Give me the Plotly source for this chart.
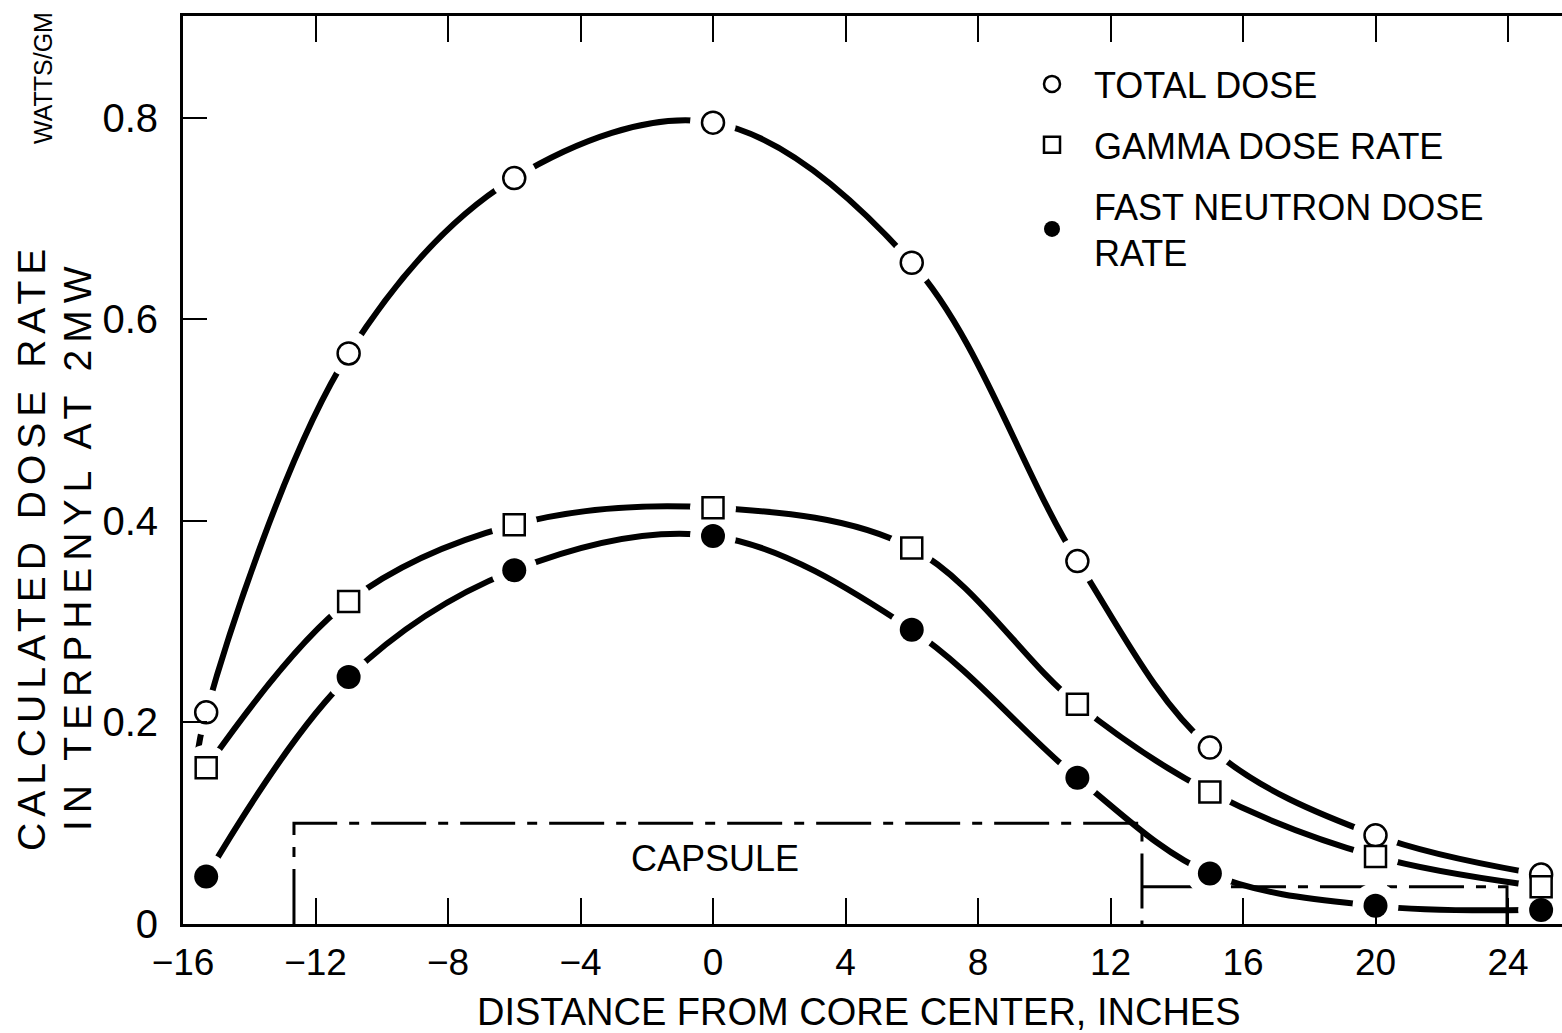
import plotly.graph_objects as go

# ---------------- data ----------------
distance_in = [-15.3, -11, -6, 0, 6, 11, 15, 20, 25]
total_dose = [0.21, 0.566, 0.74, 0.795, 0.656, 0.36, 0.175, 0.088, 0.049]
gamma_dose = [0.155, 0.32, 0.396, 0.413, 0.373, 0.218, 0.131, 0.067, 0.037]
neutron_dose = [0.047, 0.245, 0.351, 0.385, 0.292, 0.145, 0.05, 0.018, 0.014]

# lower end of the hand-drawn total-dose curve (extends below the first point)
total_curve_start_x = [-15.67]
total_curve_start_y = [0.138]

# capsule outline
capsule_x = [-12.65, -12.65, 12.95, 12.95]
capsule_y = [0.0, 0.100, 0.100, 0.0]
shelf_x = [12.95, 23.97, 23.97]
shelf_y = [0.037, 0.037, 0.0]

x_tick_vals = [-16, -12, -8, -4, 0, 4, 8, 12, 16, 20, 24]
x_tick_text = ["\u221216", "\u221212", "\u22128", "\u22124", "0", "4", "8", "12", "16", "20", "24"]
y_tick_vals = [0, 0.2, 0.4, 0.6, 0.8]
y_tick_text = ["0", "0.2", "0.4", "0.6", "0.8"]

series_names = ["TOTAL DOSE", "GAMMA DOSE RATE", "FAST NEUTRON DOSE<br>RATE"]

# ---------------- figure ----------------
FONT = "Liberation Sans, Arial, sans-serif"
W, H = 1562, 1033
L, R, T, B = 183, 0, 16, 109
pw, ph = W - L - R, H - T - B
X_RANGE = [-16, 25.63]
Y_RANGE = [0, 0.9008]
HALO = 46


def px_x(p):
    return (p - L) / pw


def px_y(p):
    return (H - B - p) / ph


fig = go.Figure()

DASH = "55px,12px,10px,12px"
fig.add_trace(go.Scatter(x=capsule_x, y=capsule_y, mode="lines",
                         line=dict(color="black", width=3, dash=DASH),
                         showlegend=False, hoverinfo="skip"))
fig.add_trace(go.Scatter(x=shelf_x, y=shelf_y, mode="lines",
                         line=dict(color="black", width=3, dash=DASH),
                         showlegend=False, hoverinfo="skip"))

# curves; each carries opaque white halo markers that break the curve around the points
curve_sets = [
    (total_curve_start_x + distance_in, total_curve_start_y + total_dose,
     [0] + [HALO] * len(distance_in)),
    (distance_in, gamma_dose, [HALO] * len(distance_in)),
    (distance_in, neutron_dose, [HALO] * len(distance_in)),
]
for cx, cy, hs in curve_sets:
    fig.add_trace(go.Scatter(x=cx, y=cy, mode="lines+markers",
                             line=dict(color="black", width=6, shape="spline", smoothing=1.0),
                             marker=dict(color="white", size=hs, opacity=1,
                                         line=dict(width=0, color="white")),
                             showlegend=False, hoverinfo="skip"))

marker_specs = [
    (total_dose, dict(symbol="circle-open", size=22, color="black", opacity=1, line=dict(width=2.5))),
    (gamma_dose, dict(symbol="square", size=21, color="white", opacity=1,
                      line=dict(width=2.5, color="black"))),
    (neutron_dose, dict(symbol="circle", size=24, color="black", opacity=1)),
]
for i, (ys, mk) in enumerate(marker_specs):
    fig.add_trace(go.Scatter(x=distance_in, y=ys, mode="markers", marker=mk,
                             name=series_names[i], legendgroup=f"g{i}",
                             showlegend=True))

fig.update_layout(
    width=W, height=H,
    margin=dict(l=L, r=R, t=T, b=B),
    paper_bgcolor="white", plot_bgcolor="white",
    font=dict(family=FONT, color="black", size=36),
    showlegend=True,
    legend=dict(x=px_x(1010), y=px_y(54), xanchor="left", yanchor="top",
                bgcolor="rgba(0,0,0,0)", borderwidth=0, itemwidth=74,
                font=dict(family=FONT, size=36, color="black"),
                traceorder="grouped", tracegroupgap=11, itemsizing="trace"),
    xaxis=dict(range=X_RANGE, tickmode="array", tickvals=x_tick_vals, ticktext=x_tick_text,
               ticks="inside", ticklen=26, tickwidth=2, tickcolor="black",
               showline=True, linecolor="black", linewidth=3, mirror="allticks",
               showgrid=False, zeroline=False,
               tickfont=dict(family=FONT, size=37), ticklabelstandoff=4),
    yaxis=dict(range=Y_RANGE, tickmode="array", tickvals=y_tick_vals, ticktext=y_tick_text,
               ticks="inside", ticklen=24, tickwidth=2, tickcolor="black",
               showline=True, linecolor="black", linewidth=3,
               showgrid=False, zeroline=False,
               tickfont=dict(family=FONT, size=40), ticklabelstandoff=14),
    yaxis2=dict(range=Y_RANGE, overlaying="y", side="right", anchor="x",
                tickmode="array", tickvals=y_tick_vals, showticklabels=False,
                ticks="inside", ticklen=18, tickwidth=2, tickcolor="black",
                showline=False, showgrid=False, zeroline=False),
)

# x-axis title
fig.add_annotation(text="DISTANCE FROM CORE CENTER, INCHES",
                   xref="paper", yref="paper", x=px_x(859), y=px_y(1012),
                   xanchor="center", yanchor="middle", showarrow=False,
                   font=dict(family=FONT, size=38))

# y-axis title (two hand-lettered lines + units)
fig.add_annotation(text='<span style="letter-spacing:6px">CALCULATED DOSE RATE</span>',
                   xref="paper", yref="paper", x=px_x(31), y=px_y(547),
                   xanchor="center", yanchor="middle", textangle=-90, showarrow=False,
                   font=dict(family=FONT, size=39))
fig.add_annotation(text='<span style="letter-spacing:7px">IN TERPHENYL AT 2MW</span>',
                   xref="paper", yref="paper", x=px_x(77), y=px_y(546),
                   xanchor="center", yanchor="middle", textangle=-90, showarrow=False,
                   font=dict(family=FONT, size=39))
fig.add_annotation(text="WATTS/GM",
                   xref="paper", yref="paper", x=px_x(43), y=px_y(78),
                   xanchor="center", yanchor="middle", textangle=-90, showarrow=False,
                   font=dict(family=FONT, size=25))

# capsule label
fig.add_annotation(text="CAPSULE", x=0.06, y=0.065, xref="x", yref="y",
                   showarrow=False, font=dict(family=FONT, size=36))

fig.write_html("out.html")
